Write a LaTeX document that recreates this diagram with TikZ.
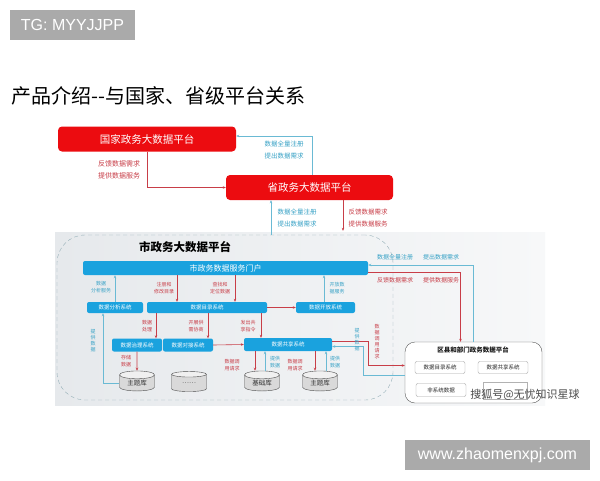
\documentclass[tikz,border=0pt]{standalone}
\usepackage{fontspec}
\setmainfont{Noto Sans CJK SC}
\newfontfamily\badgefont{Liberation Sans}
\usetikzlibrary{arrows.meta, shapes.geometric}
\definecolor{boxred}{RGB}{236,12,16}
\definecolor{linered}{RGB}{200,62,72}
\definecolor{lineteal}{RGB}{106,186,212}
\definecolor{txtteal}{RGB}{56,162,198}
\definecolor{boxblue}{RGB}{26,162,222}
\definecolor{badgegray}{RGB}{170,170,170}
\definecolor{dashgray}{RGB}{150,176,184}
\definecolor{panelleft}{RGB}{230,233,236}
\definecolor{panelright}{RGB}{247,248,249}

\begin{document}
\begin{tikzpicture}[x=1pt, y=-1pt,
    redbox/.style={fill=boxred, rounded corners=4pt, text=white, inner sep=0pt, minimum height=25pt, font=\fontsize{10.5}{12}\selectfont},
    bluebox/.style={fill=boxblue, rounded corners=2pt, text=white, inner sep=0pt, font=\fontsize{5.5}{6}\selectfont},
    subbox/.style={draw=gray!70, fill=white, rounded corners=2pt, inner sep=0pt, minimum width=50pt, minimum height=12pt, text=gray!30!black, font=\fontsize{5.5}{6}\selectfont},
    db/.style={cylinder, shape border rotate=90, aspect=0.4, draw=gray!60!black, cylinder uses custom fill, cylinder body fill=gray!30, cylinder end fill=gray!12, minimum width=35pt, minimum height=20pt, inner sep=0pt, text=gray!40!black, font=\fontsize{6.5}{7}\selectfont},
    redarr/.style={draw=linered, line width=0.6pt, -{Stealth[length=3pt,width=2.5pt]}},
    tealarr/.style={draw=lineteal, line width=0.6pt, -{Stealth[length=3pt,width=2.5pt]}},
    redlbl/.style={text=linered, align=center, inner sep=0pt, font=\fontsize{5}{6.5}\selectfont},
    teallbl/.style={text=txtteal, align=center, inner sep=0pt, font=\fontsize{5}{6.5}\selectfont},
    toplbl/.style={align=center, inner sep=0pt, font=\fontsize{6.5}{12.5}\selectfont},
    badge/.style={fill=badgegray, text=white, inner sep=0pt, font=\badgefont\fontsize{16}{18}\selectfont}]
    \useasboundingbox[fill=white] (0,0) rectangle (600,480);

    % Badges and title
    \node[badge, minimum width=125pt, minimum height=30pt] (tg) at (72.5,25) {TG: MYYJJPP};
    \node[badge, minimum width=185pt, minimum height=30pt] (url) at (497.5,455) {www.zhaomenxpj.com};
    \node[anchor=west, inner sep=0pt, font=\fontsize{20}{22}\selectfont] (title) at (11,96) {产品介绍-\kern0pt-与国家、省级平台关系};

    % National and provincial platforms
    \node[redbox, minimum width=178pt] (natl) at (147,139) {国家政务大数据平台};
    \node[redbox, minimum width=167pt] (prov) at (309.5,187.5) {省政务大数据平台};
    \draw[redarr] (natl.south) |- (prov.west);
    \draw[tealarr] (prov.north -| 312,0) |- ([yshift=3pt]natl.east);
    \node[toplbl, text=linered, font=\fontsize{7}{12.5}\selectfont] (lnp) at (119,170) {反馈数据需求\\提供数据服务};
    \node[toplbl, text=txtteal] (lpn) at (284,150) {数据全量注册\\提出数据需求};

    % City panel
    \shade[left color=panelleft, right color=panelright] (55,232) rectangle (545,405);
    \node[draw=dashgray, dash pattern=on 4pt off 3pt, rounded corners=28pt, minimum width=336pt, minimum height=165pt, inner sep=0pt] (city) at (225,317.5) {};
    \node[inner sep=0pt, font=\bfseries\fontsize{11.5}{12}\selectfont] (citytitle) at (185,247) {市政务大数据平台};
    \draw[tealarr] (city.north -| 271,0) -- (prov.south -| 271,0);
    \draw[redarr, shorten >=4pt] (prov.south -| 343,0) -- (city.north -| 343,0);
    \node[toplbl, text=txtteal] (lcp) at (297,218) {数据全量注册\\提出数据需求};
    \node[toplbl, text=linered] (lpc) at (368,218) {反馈数据需求\\提供数据服务};

    % City systems
    \node[bluebox, minimum width=285pt, minimum height=14pt, font=\fontsize{8}{9}\selectfont] (portal) at (225.5,268) {市政务数据服务门户};
    \node[bluebox, minimum width=56pt, minimum height=11pt] (ana) at (115,307.5) {数据分析系统};
    \node[bluebox, minimum width=120pt, minimum height=11pt] (cat) at (207,307.5) {数据目录系统};
    \node[bluebox, minimum width=59pt, minimum height=11pt] (open) at (325.5,307.5) {数据开放系统};
    \node[bluebox, minimum width=50pt, minimum height=13pt] (gov) at (137,345) {数据治理系统};
    \node[bluebox, minimum width=50pt, minimum height=13pt] (dock) at (188,345) {数据对接系统};
    \node[bluebox, minimum width=88pt, minimum height=13pt] (share) at (288,344.5) {数据共享系统};

    % Databases
    \node[db] (db1) at (137,383) {主题库};
    \node[db] (db2) at (189,383) {……};
    \node[db] (db3) at (262,383) {基础库};
    \node[db] (db4) at (320,383) {主题库};

    % Arrows inside the city platform
    \draw[tealarr] (ana.north) -- (ana.north |- portal.south);
    \draw[redarr] (portal.south -| 177,0) -- (cat.north -| 177,0);
    \draw[redarr] (portal.south -| 235,0) -- (cat.north -| 235,0);
    \draw[tealarr] (open.north -| 324,0) -- (portal.south -| 324,0);
    \draw[redarr] (cat.east) -- (open.west);
    \draw[redarr] (cat.south -| 156,0) -- (gov.north -| 156,0);
    \draw[redarr] (cat.south -| 208,0) -- (dock.north -| 208,0);
    \draw[redarr] (cat.south -| 261,0) -- (share.north -| 261,0);
    \draw[redarr] (dock.east) -- (share.west);
    \draw[tealarr] (db1.west) -| ([xshift=-12pt]ana.south);
    \draw[redarr] (gov.south) -- (db1.north);
    \draw[redarr] (share.south -| 255,0) -- (db3.north -| 255,0);
    \draw[tealarr] (db3.north -| 265,0) -- (share.south -| 265,0);
    \draw[redarr] (share.south -| 315,0) -- (db4.north -| 315,0);
    \draw[tealarr] (db4.north -| 326,0) -- (share.south -| 326,0);

    \node[teallbl] (lana) at (101,287) {数据\\分析服务};
    \node[redlbl] (lreg) at (164,288) {注册和\\修改目录};
    \node[redlbl] (lfind) at (220,288) {查找和\\定位数据};
    \node[teallbl] (lopen) at (337,288) {开放数\\据服务};
    \node[redlbl] (lproc) at (147,326) {数据\\处理};
    \node[redlbl] (lneg) at (196,326) {开展供\\需协商};
    \node[redlbl] (lcmd) at (248,326) {发出共\\享指令};
    \node[teallbl, font=\fontsize{5}{6}\selectfont] (lgive) at (93,341) {提\\供\\数\\据};
    \node[redlbl] (lstore) at (126,361) {存储\\数据};
    \node[redlbl] (lreq1) at (232,365) {数据调\\用请求};
    \node[teallbl] (lgive1) at (275,362) {提供\\数据};
    \node[redlbl] (lreq2) at (295,365) {数据调\\用请求};
    \node[teallbl] (lgive2) at (335,362) {提供\\数据};

    % District and department platform
    \node[draw=gray!70!black, fill=white, rounded corners=10pt, minimum width=137pt, minimum height=61pt, inner sep=0pt] (dist) at (473.5,372.5) {};
    \node[inner sep=0pt, text=gray!20!black, font=\bfseries\fontsize{6.5}{7}\selectfont] (disttitle) at (473,350) {区县和部门政务数据平台};
    \node[subbox] (dcat) at (440,367.5) {数据目录系统};
    \node[subbox] (dshare) at (503,367.5) {数据共享系统};
    \node[subbox, minimum height=13pt] (dnon) at (441,390) {非系统数据};
    \node[db, aspect=0.5, draw=gray!60, minimum width=44pt, minimum height=17pt, cylinder body fill=white, cylinder end fill=white] (ddb) at (505,391) {};

    % City <-> district
    \draw[tealarr] (dist.north) |- ([yshift=3pt]portal.east);
    \draw[redarr] ([yshift=-4pt]portal.east) -| ([xshift=-13pt]dist.north);
    \draw[redarr] ([yshift=3pt]share.east) -- ++(36,0) |- ([yshift=7pt]dist.west);
    \draw[tealarr] ([yshift=-3pt]dist.west) -- ++(-42,0) |- ([yshift=-2pt]share.east);
    \node[toplbl, text=txtteal, font=\fontsize{6}{7}\selectfont] (lreg2) at (395,257) {数据全量注册};
    \node[toplbl, text=txtteal, font=\fontsize{6}{7}\selectfont] (lneed2) at (441,257) {提出数据需求};
    \node[toplbl, text=linered, font=\fontsize{6}{7}\selectfont] (lfb2) at (395,280) {反馈数据需求};
    \node[toplbl, text=linered, font=\fontsize{6}{7}\selectfont] (lsrv2) at (441,280) {提供数据服务};
    \node[redlbl, font=\fontsize{5}{6}\selectfont] (lreq3) at (377,342) {数\\据\\调\\用\\请\\求};
    \node[teallbl, font=\fontsize{5}{6}\selectfont] (lgive3) at (357,340) {提\\供\\数\\据};

    % Watermark
    \node[inner sep=0pt, text=gray!60!black, font=\fontsize{11}{12}\selectfont] (wm) at (525,395) {搜狐号@无忧知识星球};
\end{tikzpicture}
\end{document}
